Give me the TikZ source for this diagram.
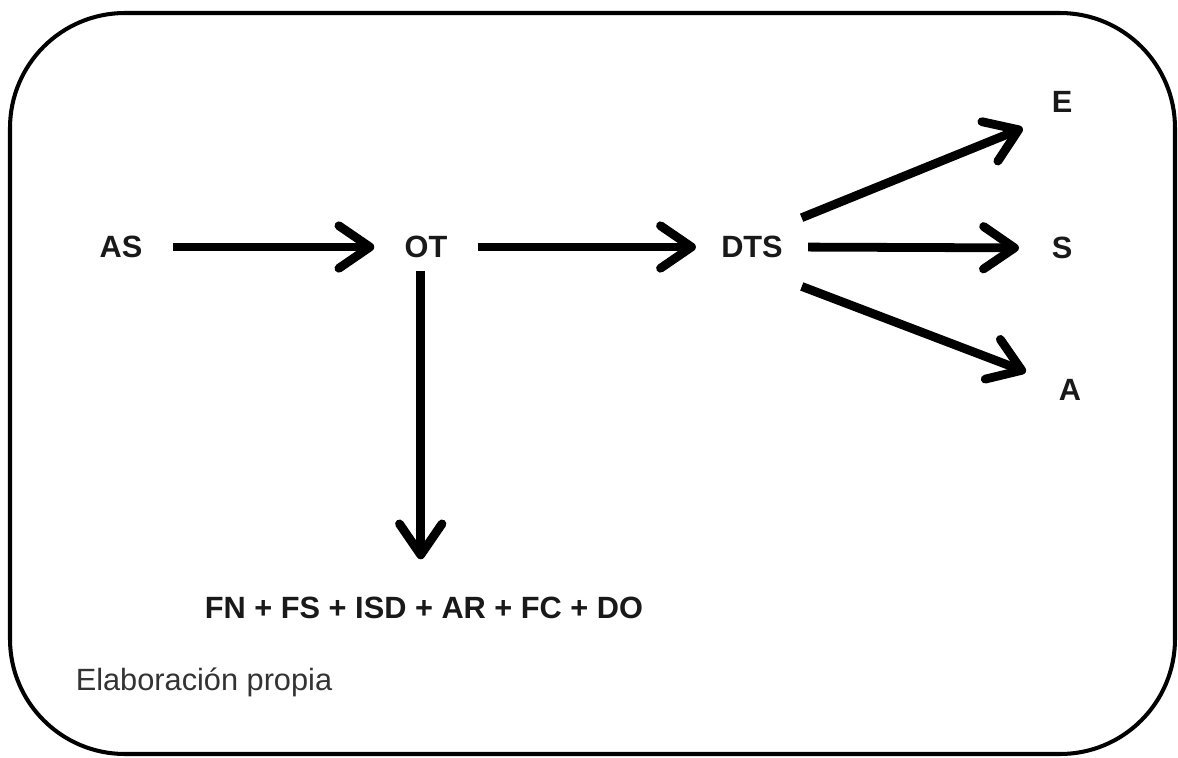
\documentclass[tikz,border=0pt]{standalone}
\usepackage{fontspec}
\setmainfont{Liberation Sans}
\usepackage{tikz}
\usetikzlibrary{arrows.meta}

\tikzset{
  lbl/.style={inner sep=0pt, font=\fontsize{17.5}{21}\selectfont\bfseries, text=black!90},
  arr/.style={line width=5pt, -{Straight Barb[length=0.62cm, width=0.85cm, line cap=round, line join=round]}},
}

\begin{document}
\begin{tikzpicture}[x=0.02cm, y=-0.02cm]
                \useasboundingbox (0,0) rectangle (1178,758);
                \draw[line width=2.3pt, rounded corners=2.3cm] (10,13) rectangle (1175,754);

                \node[lbl] (AS)  at (121,247) {AS};
                \node[lbl] (OT)  at (426,247) {OT};
                \node[lbl] (DTS) at (752,247) {DTS};
                \node[lbl] (E)   at (1062,102) {E};
                \node[lbl] (S)   at (1062,248) {S};
                \node[lbl] (A)   at (1070,390) {A};
                \node[lbl] (F)   at (424,608) {FN + FS + ISD + AR + FC + DO};
                \node[inner sep=0pt, font=\fontsize{17.5}{21}\selectfont, text=black!80] (src) at (204,682) {Elaboración propia};

                \draw[arr, shorten <=0.6cm, shorten >=0.6cm] (AS.east) -- (OT.west);
                \draw[arr, shorten <=0.6cm, shorten >=0.5cm] (OT.east) -- (DTS.west);
                \draw[arr, shorten <=0.25cm, shorten >=0.75cm] ([xshift=-3pt]OT.south) -- ([xshift=-3pt]OT.south |- F.north);
                \draw[arr, shorten <=0.4cm, shorten >=0.62cm] ([yshift=6pt]DTS.north east) -- ([yshift=-2pt]E.south west);
                \draw[arr, shorten <=0.5cm, shorten >=0.65cm] (DTS.east) -- (S.west);
                \draw[arr, shorten <=0.4cm, shorten >=0.7cm] ([yshift=-12pt]DTS.south east) -- ([yshift=-3pt]A.north west);

            \end{tikzpicture}
\end{document}
